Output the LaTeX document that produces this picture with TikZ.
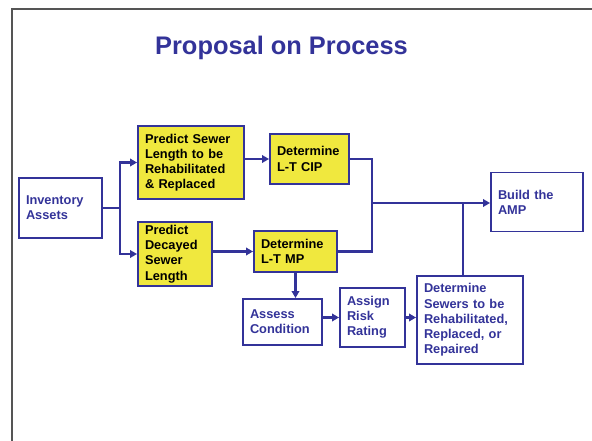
\documentclass[tikz,border=0pt]{standalone}
\usepackage{fontspec}
\setmainfont{Liberation Sans}
\usetikzlibrary{arrows.meta}
\definecolor{navy}{HTML}{333399}
\definecolor{ylw}{HTML}{F0E83E}
\definecolor{frame}{HTML}{555555}
\tikzset{
  box/.style={draw=navy, line width=1.9pt, inner xsep=7pt, inner ysep=0pt, align=left,
    font=\fontsize{12.8}{15.2}\selectfont\bfseries, anchor=center},
  ybox/.style={box, fill=ylw, text=black},
  wbox/.style={box, fill=white, text=navy},
  conn/.style={draw=navy, line width=2.6pt},
  arr/.style={conn, -{Triangle[length=7pt,width=7.5pt]}}
}
\newcommand{\bx}[6]{\node[#1, text width=#4pt-14pt, minimum height=#5pt] (#2) at #3 {#6};}
\begin{document}
\begin{tikzpicture}[x=1pt,y=-1pt]
\useasboundingbox (0,0) rectangle (592,441);
\draw[frame, line width=1.6pt] (592,9) -- (12,9) -- (12,441);
\node[text=navy, font=\fontsize{25.4}{30}\selectfont\bfseries] (title) at (281.5,48) {Proposal on Process};

\bx{wbox}{inv}{(60.5,208)}{83}{60}{Inventory\\Assets}
\bx{ybox}{ps}{(191,162.5)}{106}{73}{Predict Sewer\\Length to be\\Rehabilitated\\\& Replaced}
\bx{ybox}{pd}{(175,254)}{74}{64}{Predict\\Decayed\\Sewer\\Length}
\bx{ybox}{cip}{(309.5,159)}{79}{50}{Determine\\L-T CIP}
\bx{ybox}{mp}{(295.5,251.5)}{83}{41}{Determine\\L-T MP}
\bx{wbox}{amp}{(537,202)}{92}{59}{Build the\\AMP}
\bx{wbox}{ac}{(282.5,322)}{79}{46}{Assess\\Condition}
\bx{wbox}{rr}{(372.5,317.5)}{65}{59}{Assign\\Risk\\Rating}
\bx{wbox}{ds}{(470,320)}{106}{88}{Determine\\Sewers to be\\Rehabilitated,\\Replaced, or\\Repaired}

\coordinate (j1) at (120,208);
\coordinate (j2) at (372,203);
\coordinate (j3) at (463,203);
\draw[conn] (inv.east) -- (j1);
\draw[arr] (j1) |- (ps.west);
\draw[arr] (j1) |- (pd.west);
\draw[arr] (ps.east |- cip.west) -- (cip.west);
\draw[arr] (pd.east |- mp.west) -- (mp.west);
\draw[conn] (cip.east) -| (j2);
\draw[conn] (mp.east) -| (j2);
\draw[arr] (j2) -- (j2 -| amp.west);
\draw[conn] (ds.north -| j3) -- (j3);
\draw[arr] (mp.south) -- (mp.south |- ac.north);
\draw[arr] (ac.east |- rr.west) -- (rr.west);
\draw[arr] (rr.east) -- (rr.east -| ds.west);
\end{tikzpicture}
\end{document}
